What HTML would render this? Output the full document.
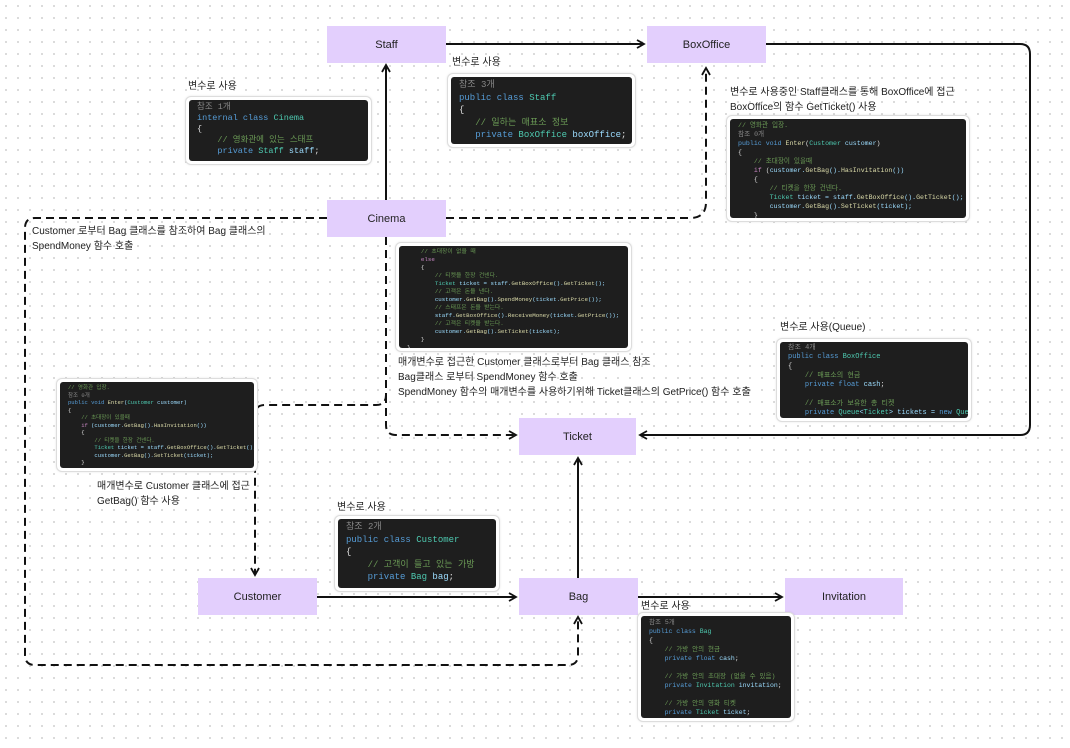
<!DOCTYPE html>
<html><head><meta charset="utf-8">
<style>
*{margin:0;padding:0;box-sizing:border-box}
body{width:1070px;height:748px;position:relative;overflow:hidden;background:#fff;
background-image:radial-gradient(circle,#d4d4d4 0.8px,transparent 1.2px);background-size:12px 12px;
font-family:"Liberation Sans","Noto Sans CJK KR",sans-serif;}
.n{position:absolute;background:#e3cffd;color:#222;font-size:11px;display:flex;align-items:center;justify-content:center;}
.f{position:absolute;background:#fff;border:1px solid #ddd;border-radius:6px;padding:3px;box-shadow:0 0 2px rgba(0,0,0,.1)}
.c{background:#1e1e1e;border-radius:3px;width:100%;height:100%;overflow:hidden;font-family:"Liberation Mono","Noto Sans CJK KR",monospace;color:#9cdcfe;white-space:pre;padding:2px 8px;}
.k{color:#569cd6}.t{color:#4ec9b0}.g{color:#6a9955}.r{color:#888}.y{color:#dcdcaa}.p{color:#c586c0}.w{color:#ddd}
.l{position:absolute;font-size:10px;color:#222;line-height:16px;white-space:nowrap}
svg{position:absolute;left:0;top:0}
</style></head><body>
<svg width="1070" height="748">
<defs>
<marker id="a" markerWidth="10" markerHeight="10" refX="8" refY="5" orient="auto" markerUnits="userSpaceOnUse"><path d="M1,1 L8,5 L1,9" fill="none" stroke="#111" stroke-width="1.8"/></marker>
</defs>
<g fill="none" stroke="#111" stroke-width="2">
<path d="M386,200 V65" marker-end="url(#a)"/>
<path d="M446,44 H644" marker-end="url(#a)"/>
<path d="M766,44 H1020 Q1030,44 1030,54 V425 Q1030,435 1020,435 H640" marker-end="url(#a)"/>
<path d="M317,597 H516" marker-end="url(#a)"/>
<path d="M578,578 V458" marker-end="url(#a)"/>
<path d="M638,597 H782" marker-end="url(#a)"/>
</g>
<g fill="none" stroke="#111" stroke-width="2" stroke-dasharray="8,5">
<path d="M446,218 H690 Q706,218 706,202 V68" marker-end="url(#a)"/>
<path d="M327,218 H35 Q25,218 25,228 V655 Q25,665 35,665 H568 Q578,665 578,655 V617" marker-end="url(#a)"/>
<path d="M386,237 V395 Q386,405 376,405 H265 Q255,405 255,415 V575" marker-end="url(#a)"/>
<path d="M386,395 V425 Q386,435 396,435 H516" marker-end="url(#a)"/>
</g>
</svg>

<div class="n" style="left:327px;top:26px;width:119px;height:37px">Staff</div>
<div class="n" style="left:647px;top:26px;width:119px;height:37px">BoxOffice</div>
<div class="n" style="left:327px;top:200px;width:119px;height:37px">Cinema</div>
<div class="n" style="left:519px;top:418px;width:117px;height:37px">Ticket</div>
<div class="n" style="left:198px;top:578px;width:119px;height:37px">Customer</div>
<div class="n" style="left:519px;top:578px;width:119px;height:37px">Bag</div>
<div class="n" style="left:785px;top:578px;width:118px;height:37px">Invitation</div>

<div class="l" style="left:188px;top:79px">변수로 사용</div>
<div class="f" style="left:185px;top:96px;width:187px;height:69px"><div class="c" style="font-size:8.5px;line-height:11px"><span class="r">참조 1개</span>
<span class="k">internal class</span> <span class="t">Cinema</span>
<span class="w">{</span>
    <span class="g">// 영화관에 있는 스태프</span>
    <span class="k">private</span> <span class="t">Staff</span> staff<span class="w">;</span></div></div>

<div class="l" style="left:452px;top:55px">변수로 사용</div>
<div class="f" style="left:447px;top:73px;width:189px;height:75px"><div class="c" style="font-size:9px;line-height:12.5px"><span class="r">참조 3개</span>
<span class="k">public class</span> <span class="t">Staff</span>
<span class="w">{</span>
   <span class="g">// 일하는 매표소 정보</span>
   <span class="k">private</span> <span class="t">BoxOffice</span> boxOffice<span class="w">;</span></div></div>

<div class="l" style="left:730px;top:85px;line-height:15px">변수로 사용중인 Staff클래스를 통해 BoxOffice에 접근<br>BoxOffice의 함수 GetTicket() 사용</div>
<div class="f" style="left:726px;top:115px;width:244px;height:107px"><div class="c" style="font-size:6.6px;line-height:9px"><span class="g">// 영화관 입장.</span>
<span class="r">참조 0개</span>
<span class="k">public void</span> <span class="y">Enter</span><span class="w">(</span><span class="t">Customer</span> customer<span class="w">)</span>
<span class="w">{</span>
    <span class="g">// 초대장이 있을때</span>
    <span class="p">if</span> <span class="w">(</span>customer.<span class="y">GetBag</span>().<span class="y">HasInvitation</span>())
    <span class="w">{</span>
        <span class="g">// 티켓을 한장 건넨다.</span>
        <span class="t">Ticket</span> ticket = staff.<span class="y">GetBoxOffice</span>().<span class="y">GetTicket</span>();
        customer.<span class="y">GetBag</span>().<span class="y">SetTicket</span>(ticket);
    <span class="w">}</span></div></div>

<div class="l" style="left:32px;top:224px;line-height:15px">Customer 로부터 Bag 클래스를 참조하여 Bag 클래스의<br>SpendMoney 함수 호출</div>

<div class="f" style="left:395px;top:242px;width:237px;height:110px"><div class="c" style="font-size:5.8px;line-height:8px">    <span class="g">// 초대장이 없을 때</span>
    <span class="p">else</span>
    <span class="w">{</span>
        <span class="g">// 티켓을 한장 건넨다.</span>
        <span class="t">Ticket</span> ticket = staff.<span class="y">GetBoxOffice</span>().<span class="y">GetTicket</span>();
        <span class="g">// 고객은 돈을 낸다.</span>
        customer.<span class="y">GetBag</span>().<span class="y">SpendMoney</span>(ticket.<span class="y">GetPrice</span>());
        <span class="g">// 스태프은 돈을 받는다.</span>
        staff.<span class="y">GetBoxOffice</span>().<span class="y">ReceiveMoney</span>(ticket.<span class="y">GetPrice</span>());
        <span class="g">// 고객은 티켓을 받는다.</span>
        customer.<span class="y">GetBag</span>().<span class="y">SetTicket</span>(ticket);
    <span class="w">}</span>
<span class="w">}</span></div></div>
<div class="l" style="left:398px;top:355px;line-height:15px">매개변수로 접근한 Customer 클래스로부터 Bag 클래스 참조<br>Bag클래스 로부터 SpendMoney 함수 호출<br>SpendMoney 함수의 매개변수를 사용하기위해 Ticket클래스의 GetPrice() 함수 호출</div>

<div class="l" style="left:780px;top:320px">변수로 사용(Queue)</div>
<div class="f" style="left:776px;top:338px;width:196px;height:84px"><div class="c" style="font-size:7px;line-height:9.3px"><span class="r">참조 4개</span>
<span class="k">public class</span> <span class="t">BoxOffice</span>
<span class="w">{</span>
    <span class="g">// 매표소의 현금</span>
    <span class="k">private float</span> cash<span class="w">;</span>

    <span class="g">// 매표소가 보유한 총 티켓</span>
    <span class="k">private</span> <span class="t">Queue</span>&lt;<span class="t">Ticket</span>&gt; tickets = <span class="k">new</span> <span class="t">Queue</span>&lt;<span class="t">Ticket</span>&gt;();</div></div>

<div class="f" style="left:56px;top:378px;width:202px;height:94px"><div class="c" style="font-size:5.5px;line-height:7.5px"><span class="g">// 영화관 입장.</span>
<span class="r">참조 0개</span>
<span class="k">public void</span> <span class="y">Enter</span>(<span class="t">Customer</span> customer)
<span class="w">{</span>
    <span class="g">// 초대장이 있을때</span>
    <span class="p">if</span> (customer.<span class="y">GetBag</span>().<span class="y">HasInvitation</span>())
    <span class="w">{</span>
        <span class="g">// 티켓을 한장 건넨다.</span>
        <span class="t">Ticket</span> ticket = staff.<span class="y">GetBoxOffice</span>().<span class="y">GetTicket</span>();
        customer.<span class="y">GetBag</span>().<span class="y">SetTicket</span>(ticket);
    <span class="w">}</span></div></div>
<div class="l" style="left:97px;top:479px;line-height:15px">매개변수로 Customer 클래스에 접근<br>GetBag() 함수 사용</div>

<div class="l" style="left:337px;top:500px">변수로 사용</div>
<div class="f" style="left:334px;top:515px;width:166px;height:77px"><div class="c" style="font-size:9px;line-height:12.5px"><span class="r">참조 2개</span>
<span class="k">public class</span> <span class="t">Customer</span>
<span class="w">{</span>
    <span class="g">// 고객이 들고 있는 가방</span>
    <span class="k">private</span> <span class="t">Bag</span> bag<span class="w">;</span></div></div>

<div class="l" style="left:641px;top:599px">변수로 사용</div>
<div class="f" style="left:637px;top:612px;width:158px;height:110px"><div class="c" style="font-size:6.5px;line-height:9px"><span class="r">참조 5개</span>
<span class="k">public class</span> <span class="t">Bag</span>
<span class="w">{</span>
    <span class="g">// 가방 안의 현금</span>
    <span class="k">private float</span> cash<span class="w">;</span>

    <span class="g">// 가방 안의 초대장 (없을 수 있음)</span>
    <span class="k">private</span> <span class="t">Invitation</span> invitation<span class="w">;</span>

    <span class="g">// 가방 안의 영화 티켓</span>
    <span class="k">private</span> <span class="t">Ticket</span> ticket<span class="w">;</span></div></div>
</body></html>
